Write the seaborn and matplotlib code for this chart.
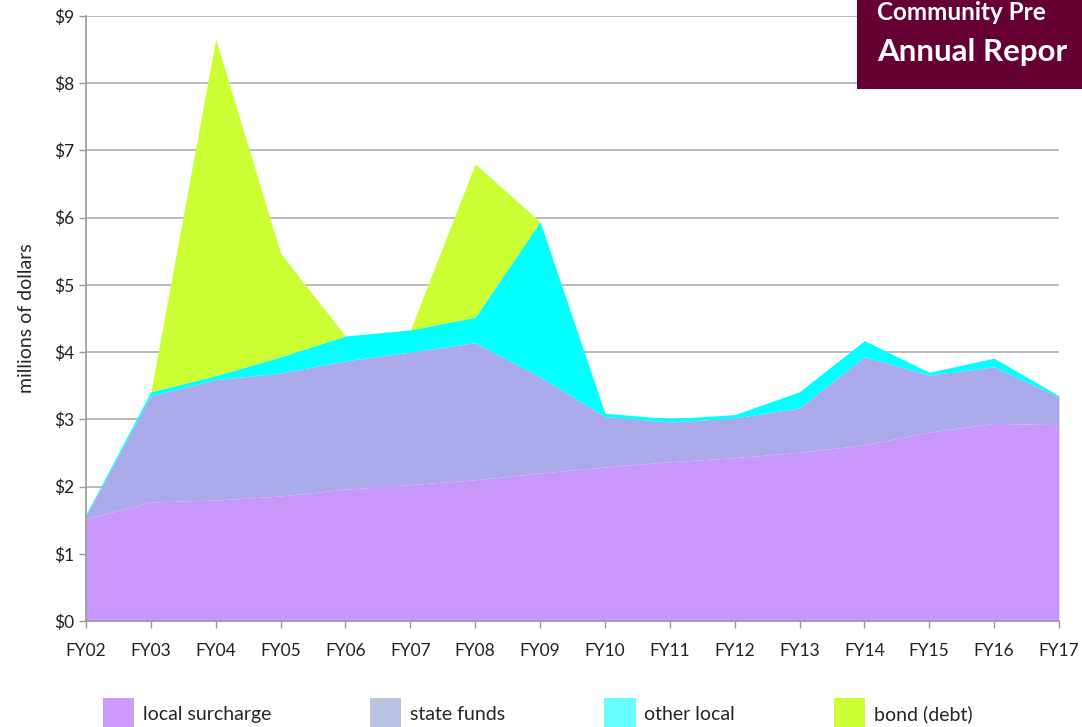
import numpy as np
import pandas as pd
import matplotlib.pyplot as plt
from matplotlib.patches import Patch, Rectangle
import seaborn as sns

years = ["FY02", "FY03", "FY04", "FY05", "FY06", "FY07", "FY08", "FY09",
         "FY10", "FY11", "FY12", "FY13", "FY14", "FY15", "FY16", "FY17"]
local_surcharge = [1.52, 1.77, 1.80, 1.86, 1.96, 2.03, 2.10, 2.20,
                   2.29, 2.37, 2.43, 2.51, 2.62, 2.81, 2.94, 2.92]
state_funds = [0.05, 1.58, 1.79, 1.83, 1.91, 1.97, 2.04, 1.43,
               0.75, 0.59, 0.59, 0.66, 1.31, 0.85, 0.84, 0.41]
other_local = [0.02, 0.06, 0.06, 0.24, 0.37, 0.33, 0.38, 2.31,
               0.05, 0.05, 0.05, 0.24, 0.24, 0.04, 0.13, 0.02]
bond_debt = [0.0, 0.0, 5.01, 1.54, 0.0, 0.0, 2.28, 0.0,
             0.0, 0.0, 0.0, 0.0, 0.0, 0.0, 0.0, 0.0]
labels = ["local surcharge", "state funds", "other local", "bond (debt)"]

area_colors = ["#c996fb", "#aaaaea", "#00ffff", "#ccff33"]
legend_colors = ["#cc99ff", "#b8c4e0", "#66ffff", "#ccff33"]

df = pd.DataFrame({"year": years, labels[0]: local_surcharge, labels[1]: state_funds,
                   labels[2]: other_local, labels[3]: bond_debt})

sns.set_theme(style="white")
plt.rcParams['font.family'] = ['Lato', 'DejaVu Sans']

fig = plt.figure(figsize=(10.82, 7.27), dpi=100)
ax = fig.add_axes([0.0795, 0.1458, 0.8992, 0.8322])

x = np.arange(len(years))
ax.stackplot(x, [df[l] for l in labels], colors=area_colors, linewidth=0, zorder=2)

ax.set_xlim(0, len(years) - 1)
ax.set_ylim(0, 9)
ax.set_xticks(x)
ax.set_xticklabels(years, fontsize=12.5)
ax.set_yticks(range(10))
ax.set_yticklabels([f"${v}" for v in range(10)], fontsize=12.5)
ax.yaxis.grid(True, color="#b0b0b0", linewidth=1.2, zorder=0)
ax.set_axisbelow(True)
ax.set_ylabel("millions of dollars", fontsize=14, labelpad=14)

for s in ["top", "right"]:
    ax.spines[s].set_visible(False)
for s in ["left", "bottom"]:
    ax.spines[s].set_color("#999999")
    ax.spines[s].set_linewidth(1.2)
ax.tick_params(axis="both", direction="out", length=5, color="#999999", width=1,
               bottom=True, left=True, labelcolor="#222222")
ax.tick_params(axis="x", pad=11)

handles = [Patch(facecolor=c, edgecolor="none") for c in legend_colors]
fig.legend(handles, labels, loc="center", bbox_to_anchor=(0.497, 0.018), ncol=4,
           frameon=False, fontsize=14, handlelength=1.6, handleheight=2.2,
           columnspacing=5.1, handletextpad=0.45)

# title box top-right (cut by the page edge in the original)
fig.patches.append(Rectangle((857 / 1082, 1 - 89 / 727), 0.3, 0.2,
                             transform=fig.transFigure, facecolor="#660033",
                             edgecolor="none", zorder=5))
fig.text(877 / 1082, 1 - 12 / 727, "Community Pre", color="white",
         fontsize=17.5, fontweight="bold", va="center", ha="left", zorder=6)
fig.text(877 / 1082, 1 - 52 / 727, "Annual Repor", color="white",
         fontsize=22.5, fontweight="bold", va="center", ha="left", zorder=6)

fig.savefig("out.png", dpi=100)
